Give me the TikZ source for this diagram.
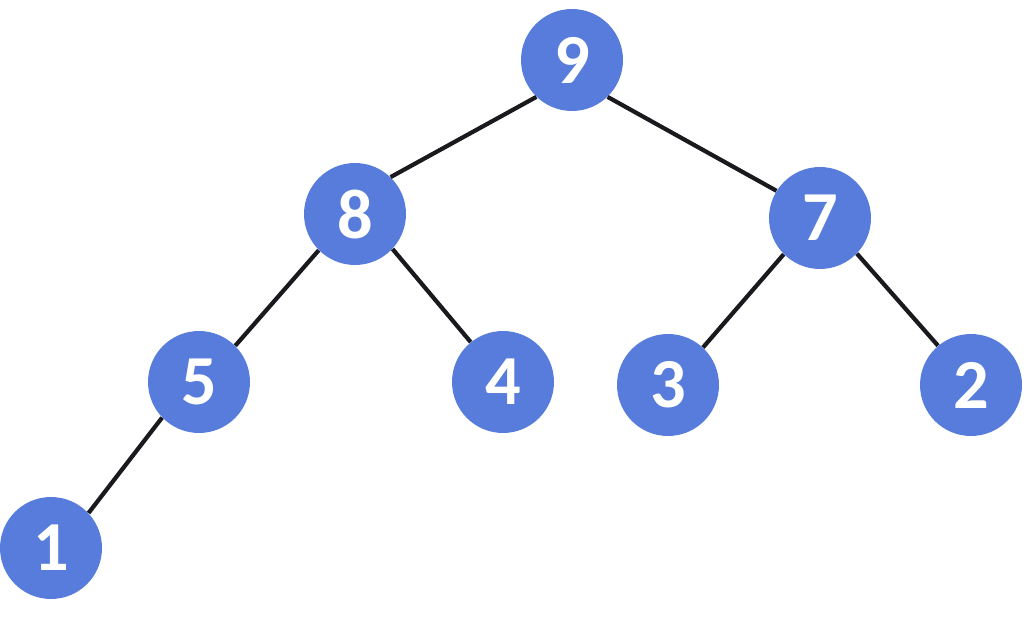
\documentclass[tikz,border=0pt]{standalone}
\usepackage{fontspec}
\setmainfont{Carlito}
\usepackage{tikz}
\usetikzlibrary{positioning}

\definecolor{heapblue}{RGB}{87,124,219}
\definecolor{edgegray}{RGB}{26,26,30}

\begin{document}
\begin{tikzpicture}[x=0.02cm,y=-0.02cm,
  key/.style={circle,fill=heapblue,inner sep=0pt,minimum size=2.04cm,
    text=white,font=\fontsize{40}{40}\selectfont\bfseries},
  edge/.style={draw=edgegray,line width=2.4pt}]
  \useasboundingbox (0,0) rectangle (1024,621);

  \node[key] (n9) at (572,60)  {9};
  \node[key] (n8) at (355,214) {8};
  \node[key] (n7) at (820,218) {7};
  \node[key] (n5) at (199,382) {5};
  \node[key] (n4) at (503,382) {4};
  \node[key] (n3) at (668,385) {3};
  \node[key] (n2) at (971,385) {2};
  \node[key] (n1) at (51,548)  {1};

  \draw[edge] (n9.226) -- (n8.46);
  \draw[edge] (n9.314) -- (n7.148);
  \draw[edge] (n8.225) -- (n5.45);
  \draw[edge] (n8.317) -- (n4.129);
  \draw[edge] (n7.225) -- (n3.47);
  \draw[edge] (n7.316) -- (n2.130);
  \draw[edge] (n5.224) -- (n1.43);
\end{tikzpicture}
\end{document}
